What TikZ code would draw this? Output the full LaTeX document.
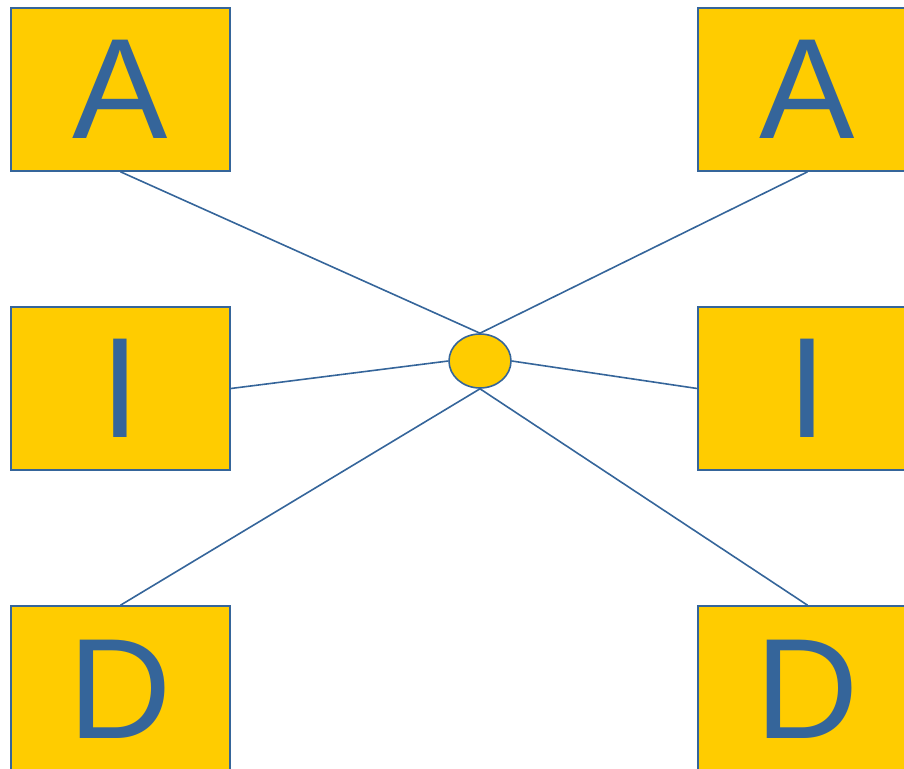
\documentclass[tikz,border=0pt]{standalone}
\usepackage{fontspec}
\setmainfont{Liberation Sans}
\usetikzlibrary{shapes.geometric}
\definecolor{gold}{HTML}{FFCC00}
\definecolor{steel}{HTML}{35659A}
\begin{document}
\begin{tikzpicture}[x=1pt,y=-1pt,
  letterbox/.style={draw=steel,fill=gold,line width=1.6pt,rectangle,
    minimum width=219pt,minimum height=163pt,inner sep=0pt,
    text=steel,font=\fontsize{143}{143}\selectfont},
  tallbox/.style={letterbox,minimum height=167pt},
  hub/.style={draw=steel,fill=gold,line width=1.6pt,ellipse,
    minimum width=62pt,minimum height=54pt,inner sep=0pt},
  link/.style={draw=steel,line width=1.6pt}]
  \useasboundingbox (0,0) rectangle (904,768);
  \clip (0,0) rectangle (904,768);
  % outer boxes
  \node[letterbox] (la) at (120.5,89.5) {\raisebox{-2pt}{A}};
  \node[letterbox] (li) at (120.5,388.5) {\raisebox{-2pt}{I}};
  \node[tallbox] (ld) at (120.5,689.5) {D};
  \node[letterbox] (ra) at (807.5,89.5) {\raisebox{-2pt}{A}};
  \node[letterbox] (ri) at (807.5,388.5) {\raisebox{-2pt}{I}};
  \node[tallbox] (rd) at (807.5,689.5) {D};
  % central hub
  \node[hub] (c) at (480,361) {};
  % spokes
  \draw[link] (la.south) -- (c.north);
  \draw[link] (ra.south) -- (c.north);
  \draw[link] (li.east) -- (c.west);
  \draw[link] (ri.west) -- (c.east);
  \draw[link] (ld.north) -- (c.south);
  \draw[link] (rd.north) -- (c.south);
\end{tikzpicture}
\end{document}
